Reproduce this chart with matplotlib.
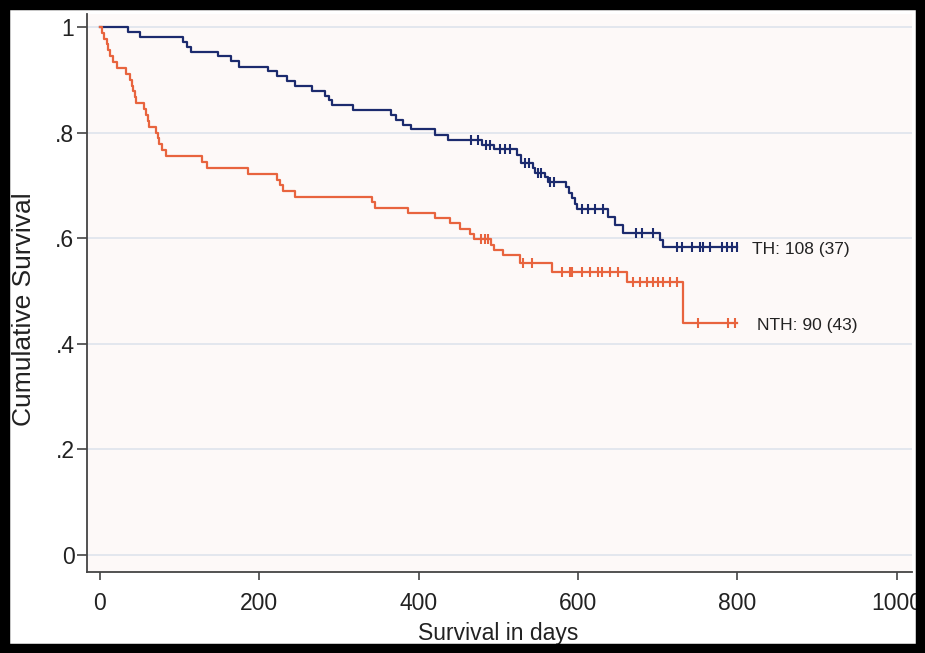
import numpy as np
import matplotlib.pyplot as plt
from matplotlib.patches import Rectangle

plt.rcParams['font.family'] = ['Liberation Sans', 'DejaVu Sans']

# TH group: event times (days) and survival after each event
th_t = [0, 35, 50, 105, 110, 115, 148, 165, 175, 211, 222, 235, 245, 266, 282, 287,
        291, 318, 366, 372, 380, 390, 420, 437, 480, 495, 523, 528, 543, 546, 558,
        562, 585, 589, 593, 596, 599, 637, 647, 656, 703, 706]
th_s = [1.0, 0.991, 0.981, 0.972, 0.962, 0.952, 0.944, 0.935, 0.925, 0.916, 0.907,
        0.897, 0.888, 0.879, 0.870, 0.861, 0.852, 0.843, 0.833, 0.824, 0.815, 0.806,
        0.796, 0.786, 0.777, 0.768, 0.757, 0.742, 0.732, 0.723, 0.715, 0.707, 0.697,
        0.686, 0.676, 0.665, 0.655, 0.640, 0.625, 0.610, 0.597, 0.583]
th_cens = [466, 475, 485, 490, 502, 508, 515, 534, 538, 550, 553, 565, 570, 605, 612,
           621, 631, 673, 680, 694, 724, 730, 743, 753, 757, 765, 780, 787, 793, 799]

# NTH group
nth_t = [0, 3, 6, 9, 11, 13, 17, 22, 33, 38, 40, 42, 44, 46, 55, 58, 60, 62, 70, 73,
         75, 78, 83, 128, 135, 186, 222, 226, 230, 245, 341, 345, 387, 420, 439, 452,
         464, 470, 491, 495, 506, 527, 567, 661, 732]
nth_s = [1.0, 0.989, 0.978, 0.967, 0.956, 0.944, 0.933, 0.922, 0.911, 0.900, 0.889,
         0.878, 0.867, 0.856, 0.844, 0.833, 0.822, 0.811, 0.800, 0.789, 0.778, 0.767,
         0.756, 0.744, 0.733, 0.722, 0.711, 0.700, 0.689, 0.678, 0.668, 0.658, 0.648,
         0.638, 0.628, 0.618, 0.608, 0.598, 0.588, 0.578, 0.568, 0.553, 0.536, 0.517,
         0.440]
nth_cens = [478, 483, 487, 531, 542, 580, 590, 593, 605, 615, 625, 630, 640, 650, 669,
            678, 686, 694, 700, 706, 715, 724, 750, 788, 797]

t_end = 800
groups = [("TH: 108 (37)", th_t, th_s, th_cens, "#1c2b6e", 18),
          ("NTH: 90 (43)", nth_t, nth_s, nth_cens, "#e8643e", 24)]

fig = plt.figure(figsize=(9.25, 6.53), dpi=100)
ax = fig.add_axes([0.094, 0.124, 0.892, 0.855])
ax.set_facecolor("#fdf9f8")

for label, t, s, cens, col, dx in groups:
    t = np.array(t + [t_end])
    s = np.array(s + [s[-1]])
    ax.step(t, s, where="post", color=col, lw=1.6, zorder=3)
    idx = np.searchsorted(t, cens, side="right") - 1
    ax.plot(cens, s[idx], ls="none", marker="|", ms=7, mew=1.5, color=col, zorder=4)
    ax.text(t_end + dx, s[-1] - 0.005, label, fontsize=12.5, va="center", color="#222222")

ax.set_xlim(-16, 1019)
ax.set_ylim(-0.032, 1.025)
ax.set_xticks([0, 200, 400, 600, 800, 1000])
ax.set_yticks([0, 0.2, 0.4, 0.6, 0.8, 1.0])
ax.set_yticklabels(["0", ".2", ".4", ".6", ".8", "1"])
ax.yaxis.grid(True, color="#e3e7ee", lw=1.4)
ax.set_axisbelow(True)
for side in ("top", "right"):
    ax.spines[side].set_visible(False)
for side in ("left", "bottom"):
    ax.spines[side].set_color("#444444")
    ax.spines[side].set_linewidth(1.3)
ax.tick_params(width=1.2, color="#444444", labelsize=16.5, labelcolor="#222222")
ax.tick_params(axis="x", length=5.5, pad=9)
ax.tick_params(axis="y", length=7, pad=2)
ax.set_xlabel("Survival in days", fontsize=16.5, color="#222222", va="center")
ax.set_ylabel("Cumulative Survival", fontsize=19, color="#222222", va="center")
ax.xaxis.set_label_coords(0.499, -0.11)
ax.yaxis.set_label_coords(-0.076, 0.471)

# black frame round the whole figure
fig.patches.append(Rectangle((0, 0), 1, 1, transform=fig.transFigure, fill=False,
                             ec="black", lw=14, zorder=10))

fig.savefig("out.png", dpi=100)
